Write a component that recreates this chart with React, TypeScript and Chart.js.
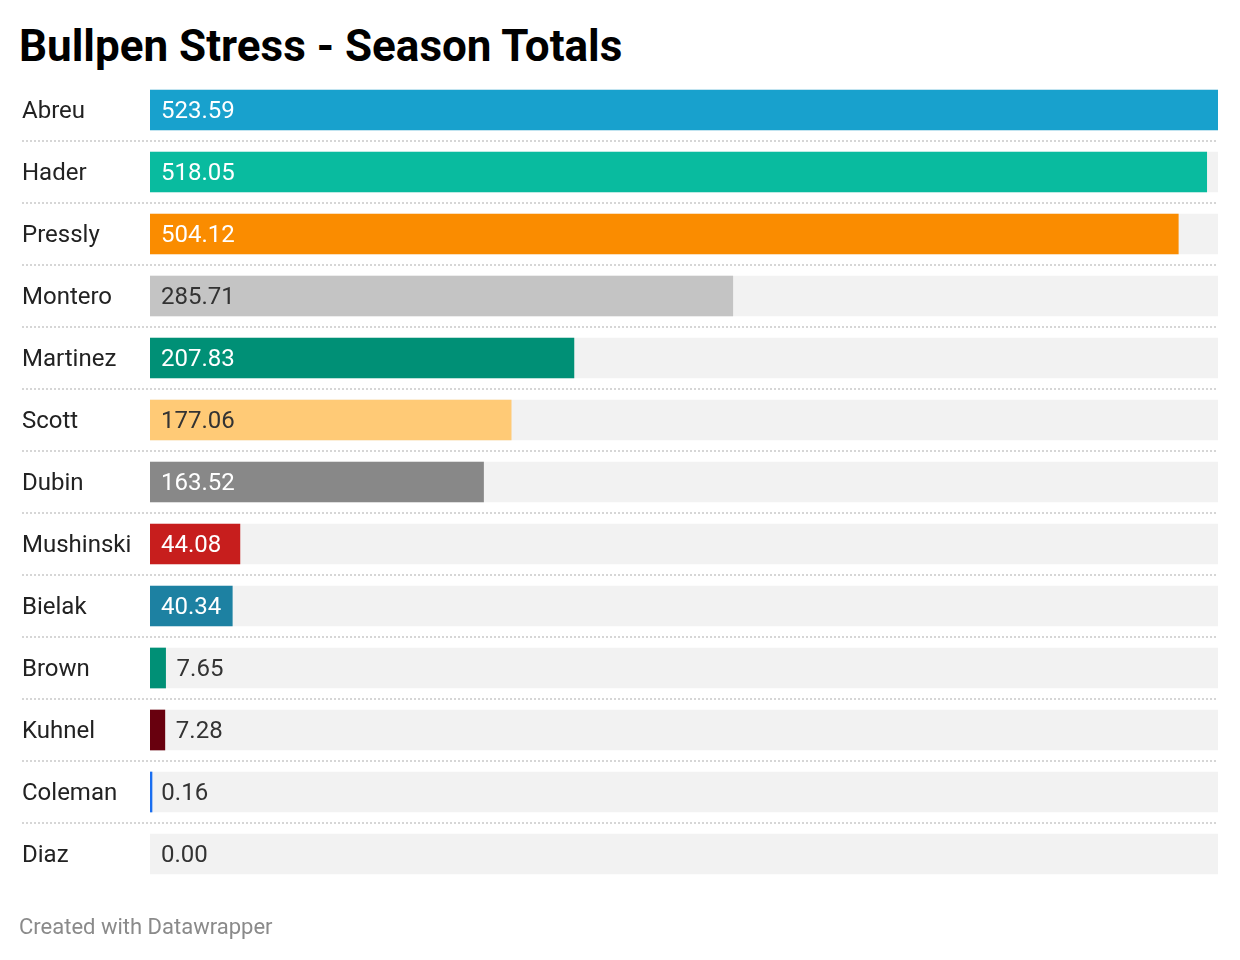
import React, { useEffect, useRef } from "react";
import { Chart, registerables } from "chart.js";

Chart.register(...registerables);

const TITLE = "Bullpen Stress - Season Totals";
const FOOTER = "Created with Datawrapper";

const categories = [
  "Abreu",
  "Hader",
  "Pressly",
  "Montero",
  "Martinez",
  "Scott",
  "Dubin",
  "Mushinski",
  "Bielak",
  "Brown",
  "Kuhnel",
  "Coleman",
  "Diaz",
];

const values = [523.59, 518.05, 504.12, 285.71, 207.83, 177.06, 163.52, 44.08, 40.34, 7.65, 7.28, 0.16, 0.0];

const barColors = [
  "#18a1cd",
  "#09bb9f",
  "#fa8c00",
  "#c4c4c4",
  "#009076",
  "#ffca76",
  "#888888",
  "#c71e1d",
  "#1d81a2",
  "#009076",
  "#68000e",
  "#1a6ef0",
  "rgba(0,0,0,0)",
];

const FONT = "Roboto, 'Noto Sans', sans-serif";

function luminance(hex: string): number {
  if (!hex.startsWith("#")) return 1;
  const n = parseInt(hex.slice(1), 16);
  const ch = [(n >> 16) & 255, (n >> 8) & 255, n & 255].map((c) => {
    const s = c / 255;
    return s <= 0.03928 ? s / 12.92 : Math.pow((s + 0.055) / 1.055, 2.4);
  });
  return 0.2126 * ch[0] + 0.7152 * ch[1] + 0.0722 * ch[2];
}

const valueLabels = {
  id: "valueLabels",
  afterDatasetsDraw(chart: any) {
    const ctx = chart.ctx;
    const xs = chart.scales.x;
    const meta = chart.getDatasetMeta(0);
    ctx.save();
    ctx.font = `24px ${FONT}`;
    ctx.textBaseline = "middle";
    ctx.textAlign = "left";
    values.forEach((v, i) => {
      const bar = meta.data[i];
      if (!bar) return;
      const text = v.toFixed(2);
      const w = ctx.measureText(text).width;
      const basePx = xs.getPixelForValue(0);
      const endPx = xs.getPixelForValue(v);
      let x: number;
      let color: string;
      if (endPx - basePx >= w + 18) {
        x = basePx + 11;
        color = luminance(barColors[i]) > 0.5 ? "#333333" : "#ffffff";
      } else {
        x = endPx + 11;
        color = "#333333";
      }
      ctx.fillStyle = color;
      ctx.fillText(text, x, bar.y + 2);
    });
    ctx.restore();
  },
};

export default function App() {
  const canvasRef = useRef<HTMLCanvasElement | null>(null);

  useEffect(() => {
    document.body.style.margin = "0";
    const canvas = canvasRef.current;
    if (!canvas) return;
    const maxVal = Math.max(...values);
    const chart = new Chart(canvas, {
      type: "bar",
      data: {
        labels: categories,
        datasets: [
          {
            data: values,
            backgroundColor: barColors,
            barThickness: 40,
            grouped: false,
            minBarLength: 2,
            order: 0,
          },
          {
            data: categories.map(() => maxVal),
            backgroundColor: "#f2f2f2",
            barThickness: 40,
            grouped: false,
            order: 1,
          },
        ],
      },
      options: {
        indexAxis: "y",
        responsive: false,
        animation: false,
        devicePixelRatio: 1,
        layout: { padding: { left: 22, right: 22, top: 79, bottom: 75 } },
        plugins: {
          legend: { display: false },
          tooltip: { enabled: false },
          title: { display: false },
        },
        scales: {
          x: {
            display: false,
            min: 0,
            max: maxVal,
            grid: { display: false },
          },
          y: {
            border: { display: false, dash: [2, 2] },
            grid: {
              offset: true,
              lineWidth: 2,
              tickWidth: 2,
              tickLength: 128,
              tickBorderDash: [2, 2],
              color: (c: any) =>
                c.index === undefined || c.index === 0 ? "rgba(0,0,0,0)" : "#d6d6d6",
            },
            ticks: {
              crossAlign: "far",
              color: "#222222",
              font: { family: FONT, size: 24 },
              padding: 0,
              labelOffset: 2,
            },
            afterFit: (scale: any) => {
              scale.width = 128;
            },
          },
        },
      } as any,
      plugins: [valueLabels],
    });
    return () => chart.destroy();
  }, []);

  return (
    <div style={{ position: "relative", width: 1240, height: 960, background: "#ffffff", overflow: "hidden" }}>
      <div
        style={{
          position: "absolute",
          left: 19,
          top: 24,
          fontFamily: FONT,
          fontWeight: 700,
          fontSize: 44,
          lineHeight: "44px",
          color: "#000000",
          whiteSpace: "nowrap",
        }}
      >
        {TITLE}
      </div>
      <canvas ref={canvasRef} width={1240} height={960} style={{ position: "absolute", left: 0, top: 0 }} />
      <div
        style={{
          position: "absolute",
          left: 19,
          top: 916,
          fontFamily: FONT,
          fontSize: 22,
          lineHeight: "22px",
          color: "#8a8a8a",
          whiteSpace: "nowrap",
        }}
      >
        {FOOTER}
      </div>
    </div>
  );
}
